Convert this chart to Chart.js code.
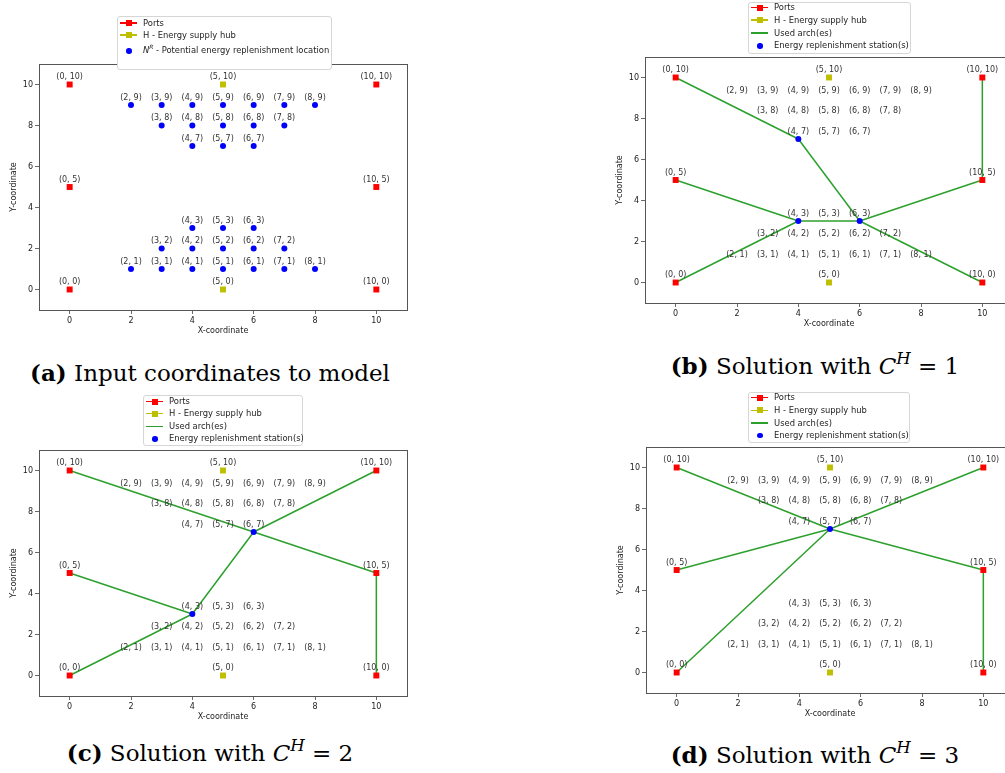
<!DOCTYPE html>
<html lang="en">
<head>
<meta charset="UTF-8">
<title>Energy replenishment solutions</title>
<script src="https://cdn.jsdelivr.net/npm/chart.js"></script>
<style>
    body { margin: 0; width: 1005px; height: 773px; position: relative; overflow: hidden; background: #fff; font-family: 'DejaVu Sans', sans-serif; }
    canvas.panel { position: absolute; }
    .legend { position: absolute; border: 1px solid #d6d6d6; border-radius: 3px; background: #fff; box-sizing: border-box; color: #222; font-size: 8.4px; z-index: 2; }
    .legend .row { position: absolute; left: 0; height: 13px; line-height: 13px; white-space: nowrap; }
    .legend .mk { position: absolute; left: 2px; top: 0; width: 17px; height: 13px; }
    .legend .ln { position: absolute; left: 0; width: 17px; top: 5.75px; height: 1.5px; }
    .legend .sq { position: absolute; left: 5.5px; top: 3.5px; width: 6px; height: 6px; }
    .legend .dot { position: absolute; left: 6px; top: 4px; width: 5.5px; height: 5.5px; border-radius: 50%; }
    .legend .txt { position: absolute; left: 25px; top: 0; }
    .legend sup { font-size: 0.7em; line-height: 0; vertical-align: 0.6em; }
    .caption { position: absolute; font-family: 'DejaVu Serif', serif; font-size: 23px; line-height: 28px; color: #000; white-space: nowrap; transform: translateX(-50%); }
    .caption sup { font-size: 0.72em; line-height: 0; vertical-align: 0.6em; }
</style>
</head>
<body>
<script>
    // axis ticks
    const xTicks = [0, 2, 4, 6, 8, 10];
    const yTicks = [0, 2, 4, 6, 8, 10];

    // nodes
    const ports = [[0, 0], [0, 5], [0, 10], [10, 0], [10, 5], [10, 10]];
    const hubs = [[5, 0], [5, 10]];
    const candidates = [
        [2, 9], [3, 9], [4, 9], [5, 9], [6, 9], [7, 9], [8, 9],
        [3, 8], [4, 8], [5, 8], [6, 8], [7, 8],
        [4, 7], [5, 7], [6, 7],
        [4, 3], [5, 3], [6, 3],
        [3, 2], [4, 2], [5, 2], [6, 2], [7, 2],
        [2, 1], [3, 1], [4, 1], [5, 1], [6, 1], [7, 1], [8, 1]
    ];

    // solution C^H = 1
    const stations1 = [[4, 7], [4, 3], [6, 3]];
    const arcs1 = [
        [[0, 10], [4, 7]], [[4, 7], [6, 3]], [[0, 5], [4, 3]], [[0, 0], [4, 3]],
        [[4, 3], [6, 3]], [[6, 3], [10, 5]], [[6, 3], [10, 0]], [[10, 5], [10, 10]]
    ];
    // solution C^H = 2
    const stations2 = [[4, 3], [6, 7]];
    const arcs2 = [
        [[0, 10], [6, 7]], [[6, 7], [10, 10]], [[6, 7], [10, 5]], [[4, 3], [6, 7]],
        [[0, 5], [4, 3]], [[0, 0], [4, 3]], [[10, 5], [10, 0]]
    ];
    // solution C^H = 3
    const stations3 = [[5, 7]];
    const arcs3 = [
        [[0, 10], [5, 7]], [[5, 7], [10, 10]], [[0, 5], [5, 7]], [[0, 0], [5, 7]],
        [[5, 7], [10, 5]], [[10, 5], [10, 0]]
    ];

    const legendInput = [
        { kind: 'port', text: 'Ports' },
        { kind: 'hub', text: 'H - Energy supply hub' },
        { kind: 'dot', text: '<i>N</i><sup><i>R</i></sup> - Potential energy replenishment location' }
    ];
    const legendSolution = [
        { kind: 'port', text: 'Ports' },
        { kind: 'hub', text: 'H - Energy supply hub' },
        { kind: 'arc', text: 'Used arch(es)' },
        { kind: 'dot', text: 'Energy replenishment station(s)' }
    ];

    const RED = '#ff0000', OLIVE = '#bfbf00', BLUE = '#0000ff', GREEN = '#2ca02c';
    const FONT = 'DejaVu Sans';

    const panels = [
        { frame: [39, 64], stations: candidates, arcs: [], legend: legendInput,
          box: [117, 16, 215, 54], rows: [7, 19, 34.5],
          caption: '<b>(a)</b> Input coordinates to model', cap: [210, 373] },
        { frame: [645, 57], stations: stations1, arcs: arcs1, legend: legendSolution,
          box: [748, 1.5, 163, 52], rows: [6, 18.5, 31.5, 44],
          caption: '<b>(b)</b> Solution with <i>C</i><sup><i>H</i></sup> = 1', cap: [815, 366] },
        { frame: [39, 450], stations: stations2, arcs: arcs2, legend: legendSolution,
          box: [143, 395, 160, 51], rows: [6.5, 18.7, 31.3, 43.5],
          caption: '<b>(c)</b> Solution with <i>C</i><sup><i>H</i></sup> = 2', cap: [210, 753] },
        { frame: [646, 447], stations: stations3, arcs: arcs3, legend: legendSolution,
          box: [748, 392, 162, 51], rows: [5.7, 18.3, 31, 43.3],
          caption: '<b>(d)</b> Solution with <i>C</i><sup><i>H</i></sup> = 3', cap: [815, 755] }
    ];

    const toXY = p => ({ x: p[0], y: p[1] });

    // frame around plot area + "(x, y)" labels
    const decorations = {
        id: 'decorations',
        afterDatasetsDraw(chart) {
            const { ctx, chartArea: a, scales: { x, y } } = chart;
            ctx.save();
            ctx.strokeStyle = '#555';
            ctx.lineWidth = 1;
            ctx.strokeRect(Math.round(a.left) + 0.5, Math.round(a.top) + 0.5, Math.round(a.width), Math.round(a.height));
            ctx.font = '8px "' + FONT + '"';
            ctx.fillStyle = '#333';
            ctx.textAlign = 'center';
            ctx.textBaseline = 'bottom';
            ports.concat(hubs, candidates).forEach(p => {
                ctx.fillText('(' + p[0] + ', ' + p[1] + ')', x.getPixelForValue(p[0]), y.getPixelForValue(p[1]) - 3.5);
            });
            ctx.restore();
        }
    };

    function axis(ticks, title, isX) {
        return {
            type: 'linear', min: -1, max: 11,
            afterBuildTicks: s => { s.ticks = ticks.map(v => ({ value: v })); },
            afterFit: s => { if (isX) s.height = 32; else s.width = 40; },
            border: { display: false },
            grid: { drawOnChartArea: false, drawTicks: true, tickLength: 4, color: '#444', lineWidth: 0.8 },
            ticks: { color: '#222', font: { family: FONT, size: 8 }, padding: 2, maxRotation: 0, autoSkip: false },
            title: { display: true, text: title, color: '#222', font: { family: FONT, size: 8 },
                     padding: isX ? { top: 0, bottom: 6 } : { top: 10.5, bottom: 0 } }
        };
    }

    function markerHtml(kind) {
        if (kind === 'port') return '<span class="ln" style="background:' + RED + '"></span><span class="sq" style="background:' + RED + '"></span>';
        if (kind === 'hub') return '<span class="ln" style="background:' + OLIVE + '"></span><span class="sq" style="background:' + OLIVE + '"></span>';
        if (kind === 'arc') return '<span class="ln" style="background:' + GREEN + '"></span>';
        return '<span class="dot" style="background:' + BLUE + '"></span>';
    }

    panels.forEach((p, i) => {
        const W = 40 + 368 + 6, H = 8 + 246 + 32;
        const canvas = document.createElement('canvas');
        canvas.className = 'panel';
        canvas.width = W; canvas.height = H;
        canvas.style.left = (p.frame[0] - 40) + 'px';
        canvas.style.top = (p.frame[1] - 8) + 'px';
        canvas.style.width = W + 'px'; canvas.style.height = H + 'px';
        document.body.appendChild(canvas);

        const datasets = [
            { data: ports.map(toXY), pointStyle: 'rect', pointRadius: 4.2, backgroundColor: RED, borderWidth: 0 },
            { data: hubs.map(toXY), pointStyle: 'rect', pointRadius: 4.2, backgroundColor: OLIVE, borderWidth: 0 },
            { data: p.stations.map(toXY), pointStyle: 'circle', pointRadius: 3, backgroundColor: BLUE, borderWidth: 0 }
        ];
        p.arcs.forEach(a => datasets.push({
            data: a.map(toXY), showLine: true, borderColor: GREEN, borderWidth: 1.5, pointRadius: 0
        }));

        new Chart(canvas.getContext('2d'), {
            type: 'scatter',
            data: { datasets: datasets },
            options: {
                responsive: false,
                animation: false,
                events: [],
                layout: { padding: { left: 0, top: 8, right: 6, bottom: 0 } },
                plugins: { legend: { display: false }, tooltip: { enabled: false } },
                scales: { x: axis(xTicks, 'X-coordinate', true), y: axis(yTicks, 'Y-coordinate', false) }
            },
            plugins: [decorations]
        });

        // legend box
        const lg = document.createElement('div');
        lg.className = 'legend';
        lg.style.left = p.box[0] + 'px'; lg.style.top = p.box[1] + 'px';
        lg.style.width = p.box[2] + 'px'; lg.style.height = p.box[3] + 'px';
        lg.innerHTML = p.legend.map((e, k) =>
            '<div class="row" style="top:' + (p.rows[k] - 7.5) + 'px"><span class="mk">' + markerHtml(e.kind) +
            '</span><span class="txt">' + e.text + '</span></div>').join('');
        document.body.appendChild(lg);

        // caption
        const cap = document.createElement('div');
        cap.className = 'caption';
        cap.style.left = p.cap[0] + 'px';
        cap.style.top = (p.cap[1] - 14) + 'px';
        cap.innerHTML = p.caption;
        document.body.appendChild(cap);
    });
</script>
</body>
</html>
